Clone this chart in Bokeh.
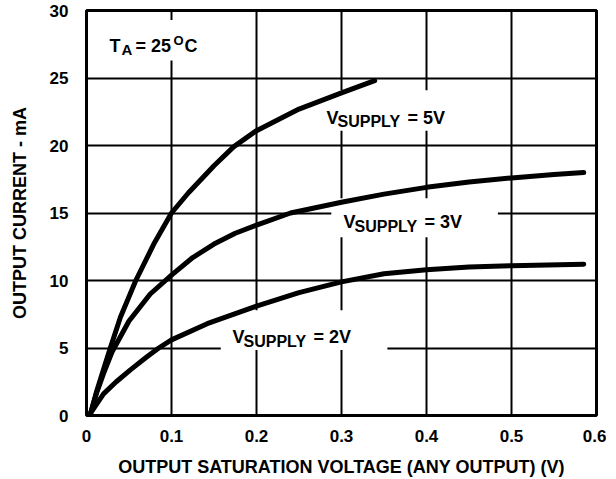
from bokeh.plotting import figure
from bokeh.models import Range1d, FixedTicker
from bokeh.core.properties import value
from bokeh.embed import file_html
from bokeh.resources import INLINE

# ---- data ----
v_5 = [0.005, 0.012, 0.02, 0.028, 0.04, 0.058, 0.08, 0.1, 0.12, 0.15, 0.173, 0.2, 0.25, 0.3, 0.339]
i_5 = [0.2, 1.8, 3.4, 5.0, 7.3, 10.0, 12.8, 15.0, 16.5, 18.5, 19.9, 21.1, 22.7, 23.9, 24.8]

v_3 = [0.005, 0.012, 0.02, 0.03, 0.05, 0.075, 0.1, 0.125, 0.15, 0.175, 0.2, 0.24, 0.3, 0.35, 0.4, 0.45, 0.5, 0.55, 0.585]
i_3 = [0.2, 1.7, 3.1, 4.7, 7.0, 9.0, 10.4, 11.7, 12.7, 13.5, 14.1, 15.0, 15.8, 16.4, 16.9, 17.3, 17.6, 17.85, 18.0]

v_2 = [0.005, 0.02, 0.035, 0.052, 0.07, 0.085, 0.1, 0.142, 0.2, 0.25, 0.3, 0.35, 0.4, 0.45, 0.5, 0.585]
i_2 = [0.2, 1.6, 2.5, 3.4, 4.3, 5.0, 5.6, 6.8, 8.1, 9.1, 9.9, 10.5, 10.8, 11.0, 11.1, 11.2]

x_ticks = [0, 0.1, 0.2, 0.3, 0.4, 0.5, 0.6]
x_tick_labels = ["0", "0.1", "0.2", "0.3", "0.4", "0.5", "0.6"]
y_ticks = [0, 5, 10, 15, 20, 25, 30]
y_tick_labels = ["0", "5", "10", "15", "20", "25", "30"]

x_title = "OUTPUT SATURATION VOLTAGE (ANY OUTPUT) (V)"
y_title = "OUTPUT CURRENT - mA"

FONT = value("Liberation Sans")

p = figure(frame_width=510, frame_height=405, x_range=Range1d(0, 0.6), y_range=Range1d(0, 30),
           output_backend="svg", toolbar_location=None,
           min_border_left=86, min_border_right=10, min_border_top=10, min_border_bottom=20)
p.background_fill_color = "white"
p.border_fill_color = "white"
p.outline_line_color = "black"
p.outline_line_width = 3
p.outline_line_alpha = 1

p.xaxis.ticker = FixedTicker(ticks=x_ticks)
p.yaxis.ticker = FixedTicker(ticks=y_ticks)
p.xaxis.major_label_overrides = dict(zip(x_ticks, x_tick_labels))
p.yaxis.major_label_overrides = dict(zip(y_ticks, y_tick_labels))
for ax in (p.xaxis[0], p.yaxis[0]):
    ax.axis_line_color = None
    ax.major_tick_line_color = None
    ax.minor_tick_line_color = None
    ax.major_label_text_font = "Liberation Sans"
    ax.major_label_text_font_style = "bold"
    ax.major_label_text_font_size = "17px"
    ax.major_label_text_color = "black"
    ax.axis_label_text_font = "Liberation Sans"
    ax.axis_label_text_font_style = "bold"
    ax.axis_label_text_font_size = "18px"
    ax.axis_label_text_color = "black"
p.xaxis.axis_label = x_title
p.yaxis.axis_label = y_title
p.xaxis.major_label_standoff = 8
p.yaxis.major_label_standoff = 12
p.xaxis.axis_label_standoff = 12
p.yaxis.axis_label_standoff = 17

for g in (p.xgrid[0], p.ygrid[0]):
    g.grid_line_color = "black"
    g.grid_line_width = 2
    g.grid_line_alpha = 1

# white boxes behind the labels (they cut the grid)
p.quad(left=[0.02, 0.27, 0.288, 0.158], right=[0.14, 0.44, 0.484, 0.354],
       bottom=[26.3, 21.1, 13.2, 4.85], top=[29.3, 24.1, 16.1, 7.8],
       fill_color="white", line_color=None)

# curves
for vx, iy in ((v_5, i_5), (v_3, i_3), (v_2, i_2)):
    p.line(vx, iy, line_color="black", line_width=5, line_join="round", line_cap="round")


def label(x, y, pieces):
    for txt, size, dx, dy in pieces:
        p.text(x=[x], y=[y], text=[txt], x_offset=dx, y_offset=dy,
               text_font=FONT, text_font_style="bold", text_font_size=size,
               text_color="black", text_baseline="alphabetic", text_align="left")


label(0.027, 27.39, [("T", "18px", 0, 0), ("A", "15px", 12, 4), ("= 25", "18px", 26, 0),
                     ("O", "13px", 64, -5), ("C", "18px", 75, 0)])
for x0, y0, s in ((0.2824, 22.07, "= 5V"), (0.3024, 14.3, "= 3V"), (0.1718, 5.78, "= 2V")):
    label(x0, y0, [("V", "18px", 0, 0), ("SUPPLY", "16px", 11, 4), (s, "18px", 81, 0)])

open("out.html", "w").write(file_html(p, INLINE))
